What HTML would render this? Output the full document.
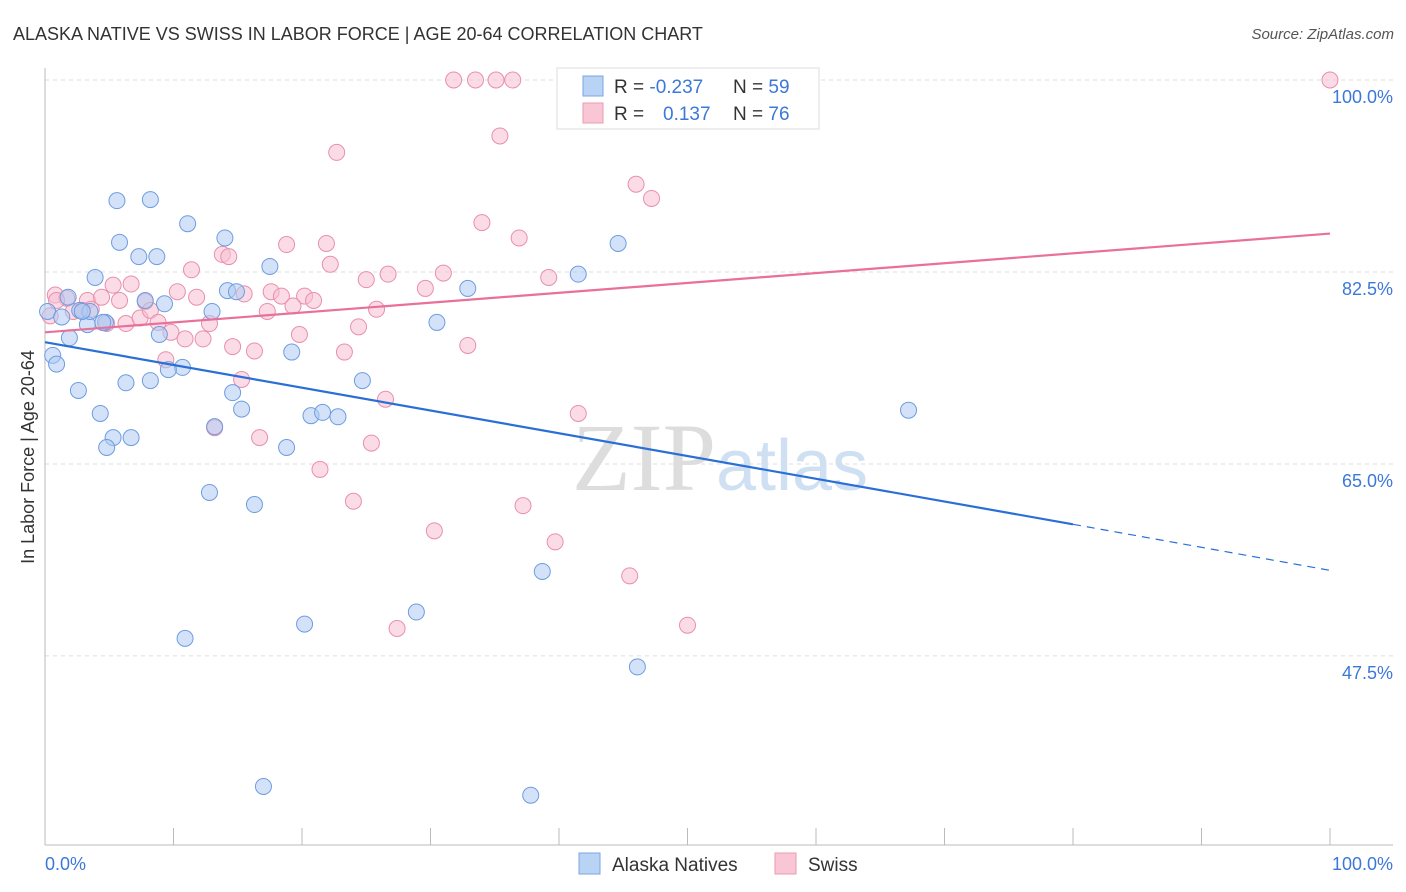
<!DOCTYPE html>
<html><head><meta charset="utf-8">
<style>
body{margin:0;background:#fff;font-family:"Liberation Sans",sans-serif;}
#wrap{position:relative;width:1406px;height:892px;overflow:hidden;}
</style></head>
<body><div id="wrap">
<svg id="svg" width="1406" height="892" xmlns="http://www.w3.org/2000/svg">
<text x="13" y="40" font-size="18" fill="#333">ALASKA NATIVE VS SWISS IN LABOR FORCE | AGE 20-64 CORRELATION CHART</text>
<text x="1394" y="39" font-size="15" fill="#555" font-style="italic" text-anchor="end">Source: ZipAtlas.com</text>
<text x="720" y="490" font-size="96" fill="#ddd" text-anchor="middle" font-family="Liberation Serif,serif">ZIP<tspan fill="#cfe0f3" font-family="Liberation Sans,sans-serif" font-size="72">atlas</tspan></text>
<g id="grid"></g><g id="axes"></g><g id="pts"></g><g id="lines"></g>
<text transform="translate(34,457) rotate(-90)" font-size="18" fill="#333" text-anchor="middle">In Labor Force | Age 20-64</text>
<text x="45" y="870" font-size="18" fill="#3b78d8">0.0%</text>
<text x="1393" y="870" font-size="18" fill="#3b78d8" text-anchor="end">100.0%</text>
<g>
<rect x="557" y="68" width="262" height="61" fill="#fff" stroke="#ddd"/>
<rect x="583" y="76" width="20" height="20" fill="#b9d3f5" stroke="#7aa6e3"/>
<rect x="583" y="103" width="20" height="20" fill="#f8c6d5" stroke="#ec9ab3"/>
<text x="614" y="93" font-size="19" fill="#333">R = <tspan fill="#3b78d8">-0.237</tspan><tspan x="733">N = </tspan><tspan fill="#3b78d8">59</tspan></text>
<text x="614" y="120" font-size="19" fill="#333">R = <tspan x="663" fill="#3b78d8">0.137</tspan><tspan x="733">N = </tspan><tspan fill="#3b78d8">76</tspan></text>
</g>
<g><rect x="579" y="853" width="21" height="21" fill="#b9d3f5" stroke="#7aa6e3"/><text x="612" y="871" font-size="19" fill="#333">Alaska Natives</text></g>
<g><rect x="775" y="853" width="21" height="21" fill="#f8c6d5" stroke="#ec9ab3"/><text x="808" y="871" font-size="19" fill="#333">Swiss</text></g>
</svg>
<script>
const yTicks=[100,82.5,65,47.5];
const xTicks=[0,10,20,30,40,50,60,70,80,90,100];
const bluePx=[[117,201],[150,200],[188,224],[120,242],[225,238],[139,257],[157,257],[95,278],[270,267],[228,291],[237,292],[145,300],[165,304],[68,297],[80,310],[47,311],[62,317],[88,325],[106,322],[212,311],[160,334],[70,338],[292,352],[53,355],[56,364],[183,367],[168,370],[126,383],[151,381],[362,381],[78,390],[232,393],[242,409],[100,413],[311,416],[323,412],[338,417],[215,427],[113,438],[131,438],[107,448],[286,448],[209,492],[254,504],[542,572],[417,612],[304,624],[185,638],[638,667],[264,786],[531,795],[618,243],[578,274],[468,288],[437,322],[908,410],[90,311],[82,311],[103,322]];
const pinkPx=[[454,80],[475,80],[496,80],[513,80],[1330,80],[500,136],[337,152],[636,184],[652,198],[482,223],[519,238],[287,245],[326,244],[222,254],[229,257],[192,270],[330,264],[366,280],[388,274],[443,273],[549,277],[55,295],[67,298],[87,300],[102,297],[113,285],[131,284],[120,300],[145,302],[177,292],[197,297],[244,294],[271,292],[282,296],[304,296],[313,300],[293,306],[376,309],[426,288],[50,316],[73,312],[91,309],[107,323],[126,323],[140,318],[151,310],[158,322],[171,332],[210,323],[203,339],[185,339],[267,312],[299,335],[358,327],[468,345],[166,360],[232,347],[254,351],[344,352],[242,380],[385,399],[578,413],[214,428],[260,438],[371,443],[320,469],[353,501],[523,506],[434,531],[555,542],[630,576],[397,628],[688,625],[82,310],[57,300]];
// data values (x %, y %)
const blueX=bluePx.map(p=>+((p[0]-45)/12.85).toFixed(1));
const blueY=bluePx.map(p=>+(100-(p[1]-80)/10.97).toFixed(1));
const pinkX=pinkPx.map(p=>+((p[0]-45)/12.85).toFixed(1));
const pinkY=pinkPx.map(p=>+(100-(p[1]-80)/10.97).toFixed(1));
const blueTrend=[76.1,59.5,55.3]; // at x=0, 80, 100
const pinkTrend=[77.0,86.0]; // at x=0, 100
const sx=v=>45+v*12.85, sy=v=>80+(100-v)*10.97;
const NS="http://www.w3.org/2000/svg";
function mk(tag,attrs,parent){const e=document.createElementNS(NS,tag);for(const k in attrs)e.setAttribute(k,attrs[k]);parent.appendChild(e);return e;}
const grid=document.getElementById('grid'),axes=document.getElementById('axes'),pts=document.getElementById('pts'),lines=document.getElementById('lines');
yTicks.forEach(t=>{
 const l=mk('line',{x1:45,x2:1393,y1:sy(t),y2:sy(t),stroke:'#ddd','stroke-dasharray':'4,4'},grid);
 
 
 const tx=mk('text',{x:1393,y:sy(t)+23,'font-size':18,fill:'#3b78d8','text-anchor':'end'},grid);
 tx.textContent=t.toFixed(1)+'%';
 
 
});
mk('line',{x1:45,x2:45,y1:68,y2:845,stroke:'#bbb'},axes);
mk('line',{x1:45,x2:1393,y1:845,y2:845,stroke:'#bbb'},axes);
xTicks.forEach(t=>{
 const l=mk('line',{x1:sx(t),x2:sx(t),y1:828,y2:845,stroke:'#bbb'},axes);
 
 
});
function dots(xs,ys,fill,stroke,name){xs.forEach((x,i)=>{
 const c=mk('circle',{cx:sx(x),cy:sy(ys[i]),r:8,fill:fill,'fill-opacity':0.55,stroke:stroke,'stroke-width':1},pts);
 
 
});}
dots(pinkX,pinkY,'#f8c0d1','#e98fab','swiss-point');
dots(blueX,blueY,'#aecbf2','#6d9de0','alaska-native-point');
let l1=mk('line',{x1:sx(0),y1:sy(blueTrend[0]),x2:sx(80),y2:sy(blueTrend[1]),stroke:'#2a6fd6','stroke-width':2.2},lines);


let l2=mk('line',{x1:sx(80),y1:sy(blueTrend[1]),x2:sx(100),y2:sy(blueTrend[2]),stroke:'#2a6fd6','stroke-width':1.2,'stroke-dasharray':'8,6'},lines);


let l3=mk('line',{x1:sx(0),y1:sy(pinkTrend[0]),x2:sx(100),y2:sy(pinkTrend[1]),stroke:'#e8709a','stroke-width':2.2},lines);


</script>
</div></body></html>
